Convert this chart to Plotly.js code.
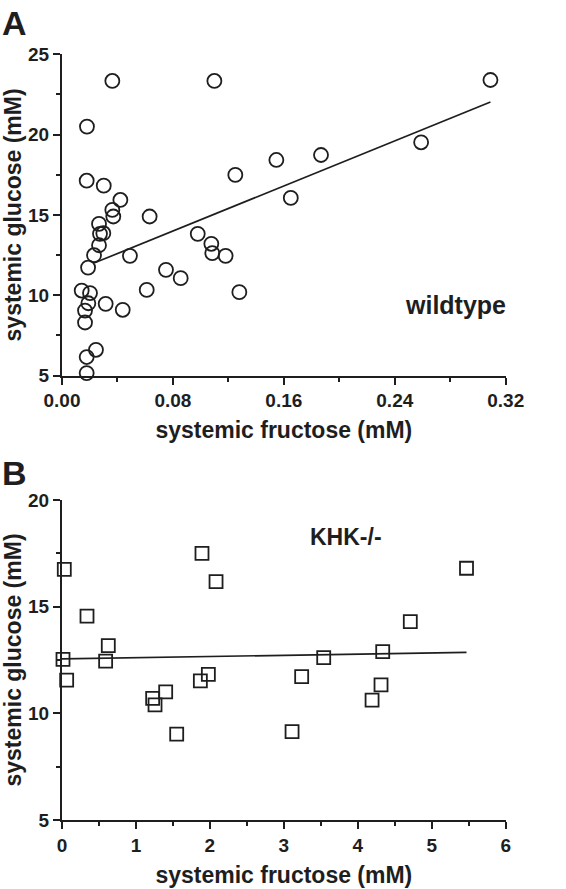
<!DOCTYPE html>
<html>
<head>
<meta charset="utf-8">
<script src="https://cdn.plot.ly/plotly-3.0.1.min.js"></script>
<style>html,body{margin:0;padding:0;background:#fff;}#chart{width:566px;height:889px;}</style>
</head>
<body>
<div id="chart"></div>
<script>
// Panel A: wildtype
const wtFructose = [0.0363, 0.1099, 0.309, 0.018, 0.259, 0.1546, 0.1868, 0.0178, 0.0301, 0.0421, 0.125, 0.165,
  0.0363, 0.037, 0.0632, 0.0267, 0.0274, 0.0298, 0.0267, 0.0231, 0.0188, 0.049, 0.0979, 0.1077, 0.1084, 0.118,
  0.075, 0.0856, 0.0611, 0.1279, 0.0142, 0.0202, 0.0315, 0.019, 0.0166, 0.0438, 0.0166, 0.0245, 0.0178, 0.0178];
const wtGlucose = [23.34, 23.34, 23.4, 20.5, 19.52, 18.42, 18.73, 17.13, 16.82, 15.93, 17.49, 16.06,
  15.31, 14.9, 14.9, 14.44, 13.82, 13.86, 13.11, 12.49, 11.72, 12.45, 13.82, 13.2, 12.62, 12.45,
  11.58, 11.06, 10.33, 10.19, 10.29, 10.13, 9.46, 9.5, 9.04, 9.09, 8.3, 6.6, 6.15, 5.15];
const wtFitX = [0.0231, 0.309];
const wtFitY = [12.0, 22.03];

// Panel B: KHK-/-
const khkFructose = [1.893, 0.031, 2.083, 5.47, 0.338, 4.71, 0.626, 0.0135, 0.59, 3.539, 4.337, 0.063,
  1.979, 1.871, 3.241, 4.314, 4.193, 1.226, 1.402, 1.258, 1.551, 3.111];
const khkGlucose = [17.5, 16.75, 16.17, 16.8, 14.56, 14.3, 13.17, 12.53, 12.45, 12.61, 12.89, 11.56,
  11.83, 11.52, 11.72, 11.33, 10.62, 10.7, 11.01, 10.4, 9.03, 9.14];
const khkFitX = [0.0, 5.47];
const khkFitY = [12.55, 12.86];

// Tick labels
const aXTickVals = [0, 0.08, 0.16, 0.24, 0.32];
const aXTickText = ['0.00', '0.08', '0.16', '0.24', '0.32'];
const aYTickVals = [5, 10, 15, 20, 25];
const aYTickText = ['5', '10', '15', '20', '25'];
const bXTickVals = [0, 1, 2, 3, 4, 5, 6];
const bXTickText = ['0', '1', '2', '3', '4', '5', '6'];
const bYTickVals = [5, 10, 15, 20];
const bYTickText = ['5', '10', '15', '20'];

const xTitle = 'systemic fructose (mM)';
const yTitle = 'systemic glucose (mM)';

const ink = '#1e1e1e';
const FONT = 'Liberation Sans, Arial, sans-serif';
const bold = arr => arr.map(t => '<b>' + t + '</b>');

const traces = [
  {x: wtFructose, y: wtGlucose, type: 'scatter', mode: 'markers', xaxis: 'x', yaxis: 'y', cliponaxis: false,
   marker: {symbol: 'circle-open', size: 14, color: ink, line: {width: 1.8, color: ink}}, showlegend: false},
  {x: wtFitX, y: wtFitY, type: 'scatter', mode: 'lines', xaxis: 'x', yaxis: 'y', cliponaxis: false,
   line: {color: ink, width: 1.7}, showlegend: false},
  {x: khkFructose, y: khkGlucose, type: 'scatter', mode: 'markers', xaxis: 'x2', yaxis: 'y2', cliponaxis: false,
   marker: {symbol: 'square-open', size: 13, color: ink, line: {width: 1.8, color: ink}}, showlegend: false},
  {x: khkFitX, y: khkFitY, type: 'scatter', mode: 'lines', xaxis: 'x2', yaxis: 'y2', cliponaxis: false,
   line: {color: ink, width: 1.7}, showlegend: false}
];

function xax(range, vals, text, minor, anchor, titleText) {
  return {domain: [62/566, 505.7/566], range: range, tickmode: 'array', tickvals: vals, ticktext: bold(text), anchor: anchor,
    showline: true, linecolor: ink, linewidth: 2, showgrid: false, zeroline: false,
    ticks: 'outside', ticklen: 7, tickwidth: 2, tickcolor: ink,
    minor: {dtick: minor, tick0: 0, ticks: 'outside', ticklen: 4, tickwidth: 2, tickcolor: ink},
    tickfont: {family: FONT, size: 19, color: ink},
    title: {text: '<b>' + titleText + '</b>', standoff: 12, font: {family: FONT, size: 23, color: ink}},
    automargin: false, fixedrange: true};
}
function yax(range, vals, text, minor, dom, anchor, titleText) {
  return {domain: dom, range: range, tickmode: 'array', tickvals: vals, ticktext: bold(text), anchor: anchor,
    showline: true, linecolor: ink, linewidth: 2, showgrid: false, zeroline: false,
    ticks: 'outside', ticklen: 7, tickwidth: 2, tickcolor: ink,
    minor: {dtick: minor, tick0: 0, ticks: 'outside', ticklen: 4, tickwidth: 2, tickcolor: ink},
    tickfont: {family: FONT, size: 19, color: ink},
    title: {text: '<b>' + titleText + '</b>', standoff: 8, font: {family: FONT, size: 23, color: ink}},
    automargin: false, fixedrange: true};
}

const layout = {
  width: 566, height: 889,
  margin: {l: 0, r: 0, t: 0, b: 0},
  paper_bgcolor: '#fff', plot_bgcolor: '#fff',
  showlegend: false,
  xaxis: xax([0, 0.32], aXTickVals, aXTickText, 0.04, 'y', xTitle),
  yaxis: yax([5, 25], aYTickVals, aYTickText, 2.5, [1 - 375.5/889, 1 - 54.3/889], 'x', yTitle),
  xaxis2: xax([0, 6], bXTickVals, bXTickText, 0.5, 'y2', xTitle),
  yaxis2: yax([5, 20], bYTickVals, bYTickText, 2.5, [1 - 820/889, 1 - 500/889], 'x2', yTitle),
  annotations: [
    {text: '<b>A</b>', xref: 'paper', yref: 'paper', x: 0, y: 1 - 2/889, xanchor: 'left', yanchor: 'top', showarrow: false,
     font: {family: FONT, size: 34, color: ink}},
    {text: '<b>B</b>', xref: 'paper', yref: 'paper', x: 0, y: 1 - 452/889, xanchor: 'left', yanchor: 'top', showarrow: false,
     font: {family: FONT, size: 34, color: ink}},
    {text: '<b>wildtype</b>', xref: 'paper', yref: 'paper', x: 455/566, y: 1 - 305/889, xanchor: 'center', yanchor: 'middle', showarrow: false,
     font: {family: FONT, size: 25, color: ink}},
    {text: '<b>KHK-/-</b>', xref: 'paper', yref: 'paper', x: 346/566, y: 1 - 537/889, xanchor: 'center', yanchor: 'middle', showarrow: false,
     font: {family: FONT, size: 23, color: ink}}
  ]
};

Plotly.newPlot('chart', traces, layout, {displayModeBar: false, staticPlot: true});
</script>
</body>
</html>
